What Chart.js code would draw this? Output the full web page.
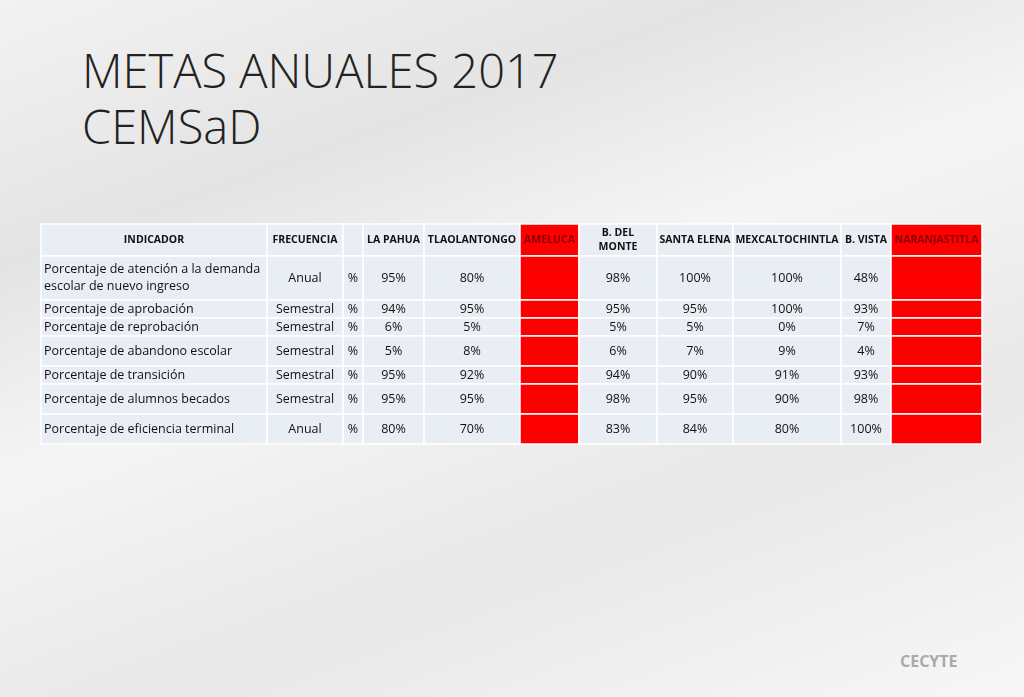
<!DOCTYPE html>
<html><head><meta charset="utf-8">
<script src="https://cdn.jsdelivr.net/npm/chart.js@4"></script>
<style>
html,body{margin:0;padding:0;width:1024px;height:697px;overflow:hidden;
background:linear-gradient(160deg,#f2f2f2 0%,#e4e4e4 25%,#f5f5f5 45%,#e8e8e8 70%,#f7f7f7 100%);}
#title{position:absolute;left:82px;top:42px;font-family:"Open Sans",sans-serif;font-weight:300;font-size:47px;line-height:56px;color:#222;}
#wrap{position:absolute;left:0;top:0;width:1024px;height:697px;}
#logo{position:absolute;left:900px;top:650px;font-family:"Open Sans",sans-serif;font-size:16px;color:#aaa;font-weight:bold}
</style></head><body>
<div id="title">METAS ANUALES 2017<br>CEMSaD</div>
<div id="logo">CECYTE</div>
<div id="wrap"><canvas id="c" width="1024" height="697"></canvas></div>
<script>
const headers = ["INDICADOR","FRECUENCIA","","LA PAHUA","TLAOLANTONGO","AMELUCA","B. DEL\nMONTE","SANTA ELENA","MEXCALTOCHINTLA","B. VISTA","NARANJASTITLA"];
const indicadores = ["Porcentaje de atención a la demanda\nescolar de nuevo ingreso","Porcentaje de aprobación","Porcentaje de reprobación","Porcentaje de abandono escolar","Porcentaje de transición","Porcentaje de alumnos becados","Porcentaje de eficiencia terminal"];
const frecuencia = ["Anual","Semestral","Semestral","Semestral","Semestral","Semestral","Anual"];
const unidad = ["%","%","%","%","%","%","%"];
const laPahua = [95,94,6,5,95,95,80];
const tlaolantongo = [80,95,5,8,92,95,70];
const ameluca = [null,null,null,null,null,null,null];
const bDelMonte = [98,95,5,6,94,98,83];
const santaElena = [100,95,5,7,90,95,84];
const mexcaltochintla = [100,100,0,9,91,90,80];
const bVista = [48,93,7,4,93,98,100];
const naranjastitla = [null,null,null,null,null,null,null];
const seriesCols = [laPahua,tlaolantongo,ameluca,bDelMonte,santaElena,mexcaltochintla,bVista,naranjastitla];
const redCols = [5,10];

const colW = [226,76,20,61,96,59,78,76,108,50,91];
const rowH = [32,44,18,18,30,18,30,30];
const colEdges=[0];colW.forEach(w=>colEdges.push(colEdges[colEdges.length-1]+w));
const rowEdges=[0];rowH.forEach(h=>rowEdges.push(rowEdges[rowEdges.length-1]+h));

const tablePlugin={id:'table',afterDraw(chart){
 const ctx=chart.ctx,xs=chart.scales.x,ys=chart.scales.y;
 const nR=indicadores.length+1;
 for(let r=0;r<nR;r++){for(let c=0;c<headers.length;c++){
  const x0=xs.getPixelForValue(colEdges[c]),x1=xs.getPixelForValue(colEdges[c+1]);
  const y0=ys.getPixelForValue(rowEdges[r]),y1=ys.getPixelForValue(rowEdges[r+1]);
  const red=redCols.includes(c);
  ctx.fillStyle=red?'#ff0000':'#e9edf4';
  ctx.fillRect(x0,y0,x1-x0,y1-y0);
  ctx.strokeStyle='#ffffff';ctx.lineWidth=1.5;ctx.strokeRect(x0,y0,x1-x0,y1-y0);
  let txt='';
  if(r===0){txt=headers[c];}
  else{const i=r-1;
   if(c===0)txt=indicadores[i];else if(c===1)txt=frecuencia[i];else if(c===2)txt=unidad[i];
   else{const v=seriesCols[c-3][i];txt=v==null?'':v+'%';}}
  if(!txt)continue;
  const lines=txt.split('\n');
  ctx.fillStyle=(r===0&&red)?'#8a0000':'#111';
  ctx.font=(r===0?'bold 10.5px':'12.5px')+' "Open Sans", sans-serif';
  ctx.textBaseline='middle';
  const lh=r===0?14:17;
  const cy=(y0+y1)/2-(lines.length-1)*lh/2;
  lines.forEach((l,k)=>{
   if(c===0&&r>0){ctx.textAlign='left';ctx.fillText(l,x0+3,cy+k*lh);}
   else{ctx.textAlign='center';ctx.fillText(l,(x0+x1)/2,cy+k*lh);}
  });
 }}
}};
new Chart(document.getElementById('c'),{type:'scatter',data:{datasets:[{data:[]}]},
 options:{responsive:false,animation:false,events:[],
  layout:{padding:{left:41,right:1024-41-colEdges[colEdges.length-1],top:224,bottom:697-224-rowEdges[rowEdges.length-1]}},
  plugins:{legend:{display:false},tooltip:{enabled:false}},
  scales:{x:{type:'linear',display:false,min:0,max:colEdges[colEdges.length-1]},
          y:{type:'linear',display:false,reverse:true,min:0,max:rowEdges[rowEdges.length-1]}}},
 plugins:[tablePlugin]});
</script></body></html>
